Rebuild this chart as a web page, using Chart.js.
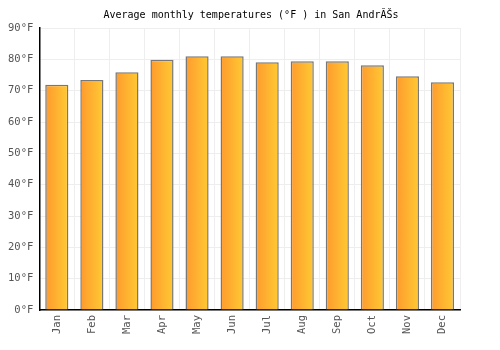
<!DOCTYPE html>
<html>
<head>
<meta charset="utf-8">
<script src="https://cdn.jsdelivr.net/npm/chart.js@4"></script>
<style>
  html, body { margin: 0; padding: 0; background: #fff; }
  #wrap { width: 500px; height: 350px; }
</style>
</head>
<body>
<div id="wrap"><canvas id="chart" width="500" height="350"></canvas></div>
<script>
const months = ["Jan", "Feb", "Mar", "Apr", "May", "Jun", "Jul", "Aug", "Sep", "Oct", "Nov", "Dec"];
const temps = [71.9, 73.4, 75.9, 79.9, 81.0, 81.0, 79.1, 79.4, 79.4, 78.1, 74.6, 72.7];
const yTicks = [0, 10, 20, 30, 40, 50, 60, 70, 80, 90];

const font = { family: "'DejaVu Sans Mono', monospace", size: 10.5 };

// Gradient from orange (left) to yellow (right) for each bar
const barGradient = (context) => {
  const chart = context.chart;
  const xScale = chart.scales.x;
  if (!chart.chartArea || !xScale) return "#ffb030";
  const cx = xScale.getPixelForValue(context.dataIndex);
  const half = xScale.width / months.length * 0.33;
  const g = chart.ctx.createLinearGradient(cx - half, 0, cx + half, 0);
  g.addColorStop(0, "#ff9a2e");
  g.addColorStop(1, "#ffca33");
  return g;
};

new Chart(document.getElementById("chart"), {
  type: "bar",
  data: {
    labels: months,
    datasets: [
      {
        data: temps,
        backgroundColor: barGradient,
        borderColor: "#777777",
        borderWidth: 1.5,
        categoryPercentage: 0.66,
        barPercentage: 1.0,
      },
    ],
  },
  options: {
    responsive: false,
    animation: false,
    layout: { padding: { left: 2, right: 0, top: 0, bottom: 11 } },
    plugins: {
      legend: { display: false },
      tooltip: { enabled: false },
      title: {
        display: true,
        text: "Average monthly temperatures (°F ) in San AndrĂŠs",
        color: "#000",
        font: { family: font.family, size: 10, weight: "normal" },
        padding: { top: 9, bottom: 7 },
      },
    },
    scales: {
      x: {
        grid: { color: "#eeeeee", drawTicks: false },
        border: { color: "#000", width: 1.5 },
        ticks: { color: "#555", font: font, maxRotation: 90, minRotation: 90, padding: 5 },
      },
      y: {
        min: 0,
        max: 90,
        afterBuildTicks: (axis) => { axis.ticks = yTicks.map((v) => ({ value: v })); },
        grid: { color: "#eeeeee", drawTicks: false },
        border: { color: "#000", width: 1.5 },
        ticks: { color: "#555", font: font, padding: 6, callback: (v) => v + "°F" },
      },
      // empty right axis, only keeps the right margin
      yRight: {
        position: "right",
        display: true,
        grid: { display: false },
        border: { display: false },
        ticks: { display: false },
        afterFit: (axis) => { axis.width = 40; },
      },
    },
  },
});
</script>
</body>
</html>
